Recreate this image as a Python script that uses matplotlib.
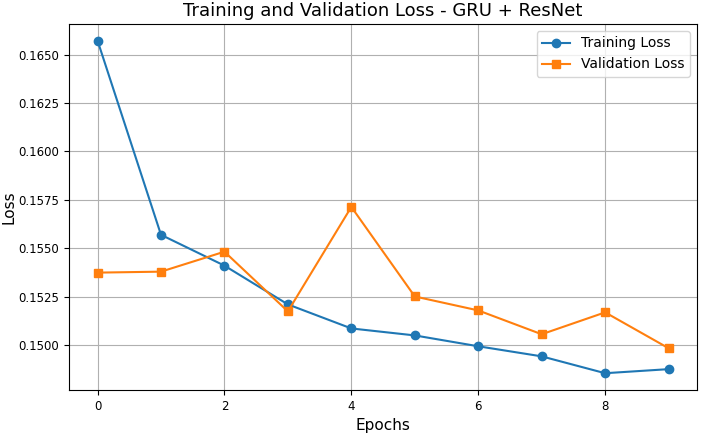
import matplotlib
matplotlib.use('Agg')
import matplotlib.pyplot as plt

epochs = list(range(10))
train_loss = [0.16572, 0.15570, 0.15411, 0.15211, 0.15087, 0.15051, 0.14995, 0.14943, 0.14856, 0.14877]
val_loss = [0.15375, 0.15380, 0.15483, 0.15175, 0.15714, 0.15252, 0.15180, 0.15057, 0.15170, 0.14985]

fig, ax = plt.subplots(figsize=(7.15, 4.41), dpi=100)
fig.subplots_adjust(left=0.0965, right=0.975, bottom=0.116, top=0.9456)

ax.plot(epochs, train_loss, marker='o', label='Training Loss')
ax.plot(epochs, val_loss, marker='s', label='Validation Loss')

ax.set_title('Training and Validation Loss - GRU + ResNet', fontsize=13)
ax.set_xlabel('Epochs', fontsize=11)
ax.set_ylabel('Loss', fontsize=11, labelpad=1)
ax.tick_params(labelsize=8.5)
ax.yaxis.set_major_formatter(plt.FormatStrFormatter('%.4f'))
ax.legend(fontsize=10)
ax.grid(True)

plt.savefig('out.png')
